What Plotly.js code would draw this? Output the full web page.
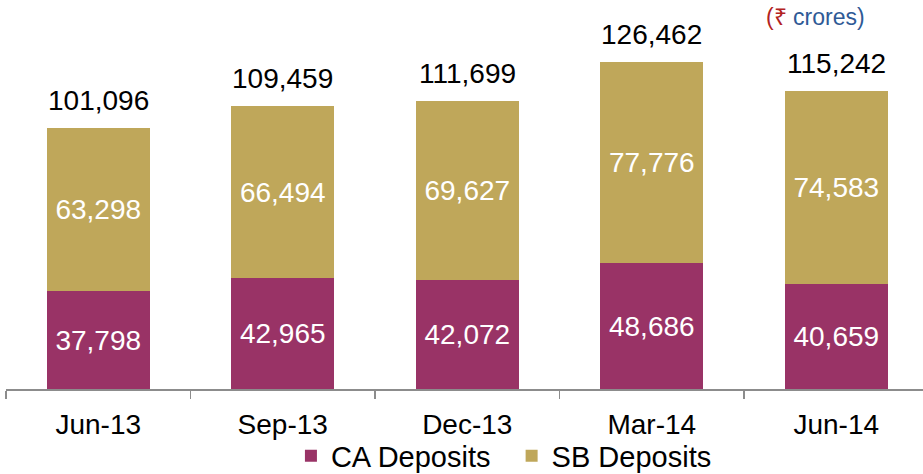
<!DOCTYPE html>
<html>
<head>
<meta charset="utf-8">
<script src="https://cdn.plot.ly/plotly-3.0.1.min.js"></script>
<style>html,body{margin:0;padding:0;overflow:hidden;background:#fff;}#chart{width:923px;height:474px;}</style>
</head>
<body>
<div id="chart"></div>
<script>
var categories = ["Jun-13", "Sep-13", "Dec-13", "Mar-14", "Jun-14"];
var caDeposits = [37798, 42965, 42072, 48686, 40659];
var sbDeposits = [63298, 66494, 69627, 77776, 74583];
var totals = [101096, 109459, 111699, 126462, 115242];
var totalLabels = ["101,096", "109,459", "111,699", "126,462", "115,242"];
var seriesNames = ["CA Deposits", "SB Deposits"];

var FONT = '"Liberation Sans", Arial, sans-serif';

var traces = [
  {
    type: 'bar', name: seriesNames[0] + '\u00A0\u00A0', x: categories, y: caDeposits,
    marker: {color: '#993366'},
    texttemplate: '%{y:,}', textposition: 'inside', insidetextanchor: 'middle',
    textangle: 0, textfont: {color: '#ffffff', size: 28, family: FONT},
    hoverinfo: 'skip'
  },
  {
    type: 'bar', name: seriesNames[1], x: categories, y: sbDeposits,
    marker: {color: '#BFA75A'},
    texttemplate: '%{y:,}', textposition: 'inside', insidetextanchor: 'middle',
    textangle: 0, textfont: {color: '#ffffff', size: 28, family: FONT},
    hoverinfo: 'skip'
  }
];

var annotations = categories.map(function (c, i) {
  return {
    x: c, y: totals[i], xref: 'x', yref: 'y', text: totalLabels[i],
    showarrow: false, yanchor: 'bottom', yshift: 10,
    font: {size: 28, color: '#000000', family: FONT}
  };
});
annotations.push({
  xref: 'paper', yref: 'paper', x: 0.883, y: 0.956, xanchor: 'center', yanchor: 'middle',
  showarrow: false,
  text: '<span style="color:#B22222">(₹ </span><span style="color:#2F5A96">crores)</span>',
  font: {size: 23, family: FONT, color: '#2F5A96'}
});

var layout = {
  width: 923, height: 474,
  margin: {l: 6, r: 0, t: 0, b: 85, autoexpand: false},
  barmode: 'stack', bargap: 0.44,
  paper_bgcolor: '#ffffff', plot_bgcolor: '#ffffff',
  font: {family: FONT, color: '#000000'},
  showlegend: true,
  legend: {
    orientation: 'h', x: 0.543, xanchor: 'center', y: -0.172, yanchor: 'middle',
    bgcolor: 'rgba(0,0,0,0)',
    font: {size: 29, family: FONT, color: '#000000'},
    traceorder: 'normal', itemwidth: 30
  },
  xaxis: {
    type: 'category', range: [-0.5, 4.47], automargin: false,
    showline: true, linecolor: '#8c8c8c', linewidth: 1.5,
    ticks: 'outside', tickson: 'boundaries', ticklen: 8, tickcolor: '#8c8c8c', tickwidth: 1.5,
    tickfont: {size: 28, family: FONT, color: '#000000', weight: 'normal'},
    ticklabelstandoff: 10,
    showgrid: false, zeroline: false, fixedrange: true
  },
  yaxis: {
    range: [0, 150660], visible: false, showgrid: false, zeroline: false, fixedrange: true
  },
  annotations: annotations
};

Plotly.newPlot('chart', traces, layout, {staticPlot: true, displayModeBar: false});
</script>
</body>
</html>
